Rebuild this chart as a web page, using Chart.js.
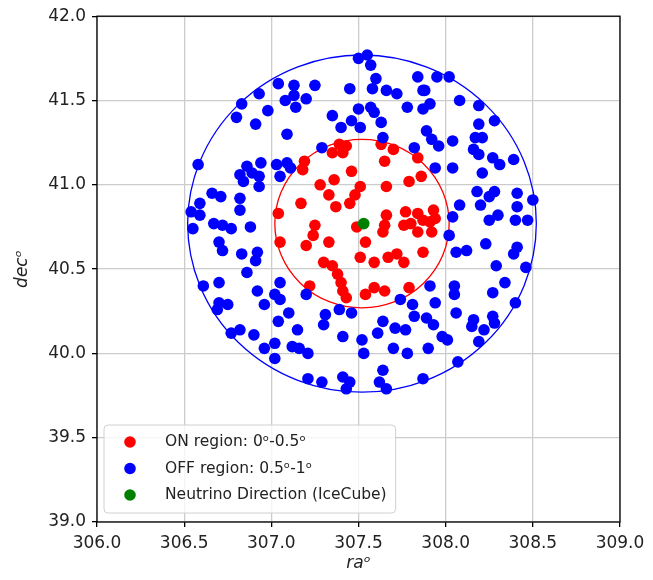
<!DOCTYPE html>
<html>
<head>
<meta charset="utf-8">
<script src="https://cdn.jsdelivr.net/npm/chart.js@4.4.0/dist/chart.umd.min.js"></script>
<style>
  html, body { margin: 0; padding: 0; background: #fff; }
  #wrap { width: 653px; height: 580px; }
</style>
</head>
<body>
<div id="wrap"><canvas id="sky" width="653" height="580"></canvas></div>
<script>
// ON region events (ra, dec), red
var onPoints = [
  [307.39,41.24],[307.41,41.19],[307.35,41.19],[307.43,41.23],[307.19,41.14],[307.18,41.09],
  [307.65,41.14],[307.70,41.21],[307.63,41.24],[307.84,41.16],[307.46,41.08],[307.36,41.03],
  [307.28,41.00],[307.51,40.99],[307.48,40.94],[307.45,40.89],[307.66,40.99],[307.33,40.94],
  [307.37,40.87],[307.17,40.89],[307.04,40.83],[307.79,41.02],[307.86,41.05],[307.66,40.82],
  [307.77,40.84],[307.84,40.83],[307.93,40.85],[307.94,40.80],[307.80,40.77],[307.76,40.76],
  [307.92,40.72],[307.84,40.72],[307.64,40.72],[307.65,40.76],[307.49,40.75],[307.25,40.76],
  [307.24,40.70],[307.20,40.64],[307.05,40.66],[307.33,40.66],[307.54,40.66],[307.87,40.60],
  [307.51,40.57],[307.59,40.54],[307.67,40.57],[307.72,40.59],[307.76,40.54],[307.30,40.54],
  [307.35,40.52],[307.38,40.47],[307.40,40.42],[307.41,40.37],[307.43,40.33],[307.22,40.40],
  [307.54,40.35],[307.59,40.39],[307.65,40.37],[307.79,40.39],[307.91,40.78],[307.87,40.79]
];

// OFF region events (ra, dec), blue
var offPoints = [
  [307.55,41.77],[307.57,41.71],[307.50,41.75],[307.45,41.57],[307.25,41.59],[307.20,41.51],
  [307.60,41.63],[307.58,41.57],[307.66,41.56],[307.72,41.54],[307.84,41.64],[307.87,41.56],
  [307.78,41.46],[307.87,41.45],[307.57,41.46],[307.59,41.43],[307.63,41.37],[307.50,41.45],
  [307.46,41.38],[307.35,41.41],[307.40,41.34],[307.51,41.34],[307.64,41.28],[307.29,41.22],
  [307.82,41.22],[307.04,41.60],[307.13,41.59],[307.13,41.53],[307.08,41.50],[307.14,41.46],
  [306.93,41.54],[306.83,41.48],[306.98,41.44],[306.80,41.40],[306.91,41.36],[307.09,41.30],
  [306.58,41.12],[306.86,41.11],[306.94,41.13],[307.03,41.12],[307.09,41.13],[306.82,41.06],
  [306.89,41.07],[306.93,41.05],[306.84,41.02],[306.93,40.99],[307.05,41.05],[307.11,41.10],
  [306.66,40.95],[306.71,40.93],[306.59,40.89],[306.54,40.84],[306.59,40.82],[306.82,40.92],
  [306.82,40.85],[307.95,41.64],[308.02,41.64],[307.88,41.56],[307.91,41.48],[308.08,41.50],
  [308.19,41.47],[308.19,41.36],[308.28,41.38],[307.89,41.32],[307.92,41.27],[307.96,41.23],
  [308.04,41.26],[308.17,41.28],[308.21,41.28],[308.16,41.21],[308.19,41.18],[308.27,41.16],
  [308.31,41.12],[308.39,41.15],[307.94,41.10],[308.04,41.10],[308.21,41.07],[308.18,40.96],
  [308.28,40.96],[308.20,40.88],[308.25,40.93],[308.41,40.95],[308.50,40.91],[308.41,40.87],
  [308.08,40.88],[308.04,40.81],[308.30,40.82],[306.55,40.74],[306.67,40.77],[306.72,40.76],
  [306.77,40.74],[306.88,40.75],[306.70,40.66],[306.72,40.61],[306.83,40.59],[306.92,40.60],
  [306.91,40.55],[306.86,40.48],[306.70,40.42],[306.61,40.40],[306.92,40.37],[307.05,40.42],
  [307.02,40.35],[307.05,40.32],[306.96,40.29],[306.70,40.30],[306.75,40.29],[306.69,40.26],
  [307.10,40.24],[307.04,40.19],[307.15,40.14],[306.77,40.12],[306.82,40.14],[306.90,40.11],
  [306.96,40.03],[307.02,40.06],[307.02,39.97],[307.12,40.04],[307.16,40.03],[307.21,39.85],
  [307.20,40.35],[307.31,40.23],[307.30,40.17],[307.39,40.26],[307.46,40.24],[307.74,40.32],
  [307.81,40.29],[307.82,40.22],[307.89,40.21],[307.64,40.19],[307.61,40.12],[307.71,40.15],
  [307.77,40.14],[307.41,40.10],[307.52,40.08],[307.21,40.00],[307.53,40.00],[307.70,40.03],
  [307.78,40.00],[307.29,39.83],[307.41,39.86],[307.45,39.83],[307.43,39.79],[307.64,39.90],
  [307.62,39.83],[307.66,39.79],[308.25,40.79],[308.40,40.79],[308.47,40.79],[308.02,40.70],
  [308.06,40.60],[308.12,40.61],[308.23,40.65],[308.41,40.63],[308.39,40.59],[308.29,40.52],
  [308.46,40.51],[307.91,40.40],[308.05,40.40],[308.05,40.35],[308.34,40.42],[308.27,40.36],
  [307.94,40.30],[308.40,40.30],[308.06,40.24],[308.16,40.20],[308.15,40.16],[308.22,40.14],
  [308.27,40.22],[308.28,40.18],[307.93,40.17],[307.98,40.10],[308.01,40.08],[308.19,40.07],
  [307.90,40.03],[308.07,39.95],[307.87,39.85]
];

// IceCube neutrino direction
var nuPoints = [[307.53, 40.77]];

// circles around the neutrino direction
var ringCenter = [307.52, 40.77];
var ringRadii = [0.5, 1.0];
var ringColors = ['#ff0000', '#0000ff'];

var axisMin = { x: 306.0, y: 39.0 };
var axisMax = { x: 309.0, y: 42.0 };
var tickStep = 0.5;

var labels = ['ON region: 0\u1D52-0.5\u1D52', 'OFF region: 0.5\u1D52-1\u1D52', 'Neutrino Direction (IceCube)'];
var colors = ['#ff0000', '#0000ff', '#008000'];

function toXY(list) {
  return list.map(function (p) { return { x: p[0], y: p[1] }; });
}

var FONT = 'DejaVu Sans';

var ringsPlugin = {
  id: 'rings',
  beforeDatasetsDraw: function (chart) {
    var ctx = chart.ctx, xs = chart.scales.x, ys = chart.scales.y;
    var cx = xs.getPixelForValue(ringCenter[0]);
    var cy = ys.getPixelForValue(ringCenter[1]);
    ctx.save();
    ringRadii.forEach(function (r, i) {
      var rx = xs.getPixelForValue(ringCenter[0] + r) - cx;
      var ry = cy - ys.getPixelForValue(ringCenter[1] + r);
      ctx.beginPath();
      ctx.ellipse(cx, cy, rx, ry, 0, 0, Math.PI * 2);
      ctx.strokeStyle = ringColors[i];
      ctx.lineWidth = 1.3;
      ctx.stroke();
    });
    ctx.restore();
  }
};

// frame + legend box in the lower left corner of the plot
var framePlugin = {
  id: 'frame',
  afterDraw: function (chart) {
    var ctx = chart.ctx, a = chart.chartArea;
    ctx.save();
    ctx.strokeStyle = '#000';
    ctx.lineWidth = 1.3;
    ctx.strokeRect(a.left, a.top, a.right - a.left, a.bottom - a.top);

    ctx.font = '15.5px "' + FONT + '"';
    var maxW = 0;
    chart.data.datasets.forEach(function (d) {
      maxW = Math.max(maxW, ctx.measureText(d.label).width);
    });
    var bx = a.left + 7, by = a.bottom - 97, bh = 88;
    var bw = 61 + maxW + 9;
    ctx.beginPath();
    ctx.roundRect(bx, by, bw, bh, 4);
    ctx.fillStyle = 'rgba(255,255,255,0.8)';
    ctx.fill();
    ctx.strokeStyle = '#d0d0d0';
    ctx.lineWidth = 1;
    ctx.stroke();

    ctx.textBaseline = 'middle';
    ctx.textAlign = 'left';
    chart.data.datasets.forEach(function (d, i) {
      var y = by + 17 + i * 26.5;
      ctx.beginPath();
      ctx.arc(bx + 26, y, 5.8, 0, Math.PI * 2);
      ctx.fillStyle = d.backgroundColor;
      ctx.fill();
      ctx.fillStyle = '#222';
      ctx.fillText(d.label, bx + 61, y);
    });
    ctx.restore();
  }
};

function axis(min, max, title, pad, fit) {
  return {
    type: 'linear',
    min: min,
    max: max,
    ticks: {
      stepSize: tickStep,
      autoSkip: false,
      maxRotation: 0,
      padding: 6,
      color: '#222',
      font: { family: FONT, size: 17 },
      callback: function (v) { return Number(v).toFixed(1); }
    },
    grid: { color: '#cccccc', lineWidth: 1.3, tickLength: 5, tickColor: '#000', tickWidth: 1.3 },
    border: { display: false },
    title: {
      display: true,
      text: title,
      color: '#222',
      font: { family: FONT, size: 17, style: 'italic' },
      padding: pad
    },
    afterFit: fit
  };
}

new Chart(document.getElementById('sky'), {
  type: 'scatter',
  data: {
    datasets: [
      { label: labels[0], data: toXY(onPoints), backgroundColor: colors[0], pointRadius: 5.8, borderWidth: 0, order: 3 },
      { label: labels[1], data: toXY(offPoints), backgroundColor: colors[1], pointRadius: 5.8, borderWidth: 0, order: 2 },
      { label: labels[2], data: toXY(nuPoints), backgroundColor: colors[2], pointRadius: 5.8, borderWidth: 0, order: 1 }
    ]
  },
  options: {
    responsive: false,
    animation: false,
    devicePixelRatio: 1,
    layout: { padding: { left: 0, top: 16, right: 33, bottom: 0 } },
    plugins: { legend: { display: false }, tooltip: { enabled: false } },
    scales: {
      x: axis(axisMin.x, axisMax.x, 'ra\u1D52', { top: 2, bottom: 6 }, function (s) { s.height = 58; }),
      y: axis(axisMin.y, axisMax.y, 'dec\u1D52', { top: 12, bottom: 0 }, function (s) { s.width = 97; })
    }
  },
  plugins: [ringsPlugin, framePlugin]
});
</script>
</body>
</html>
